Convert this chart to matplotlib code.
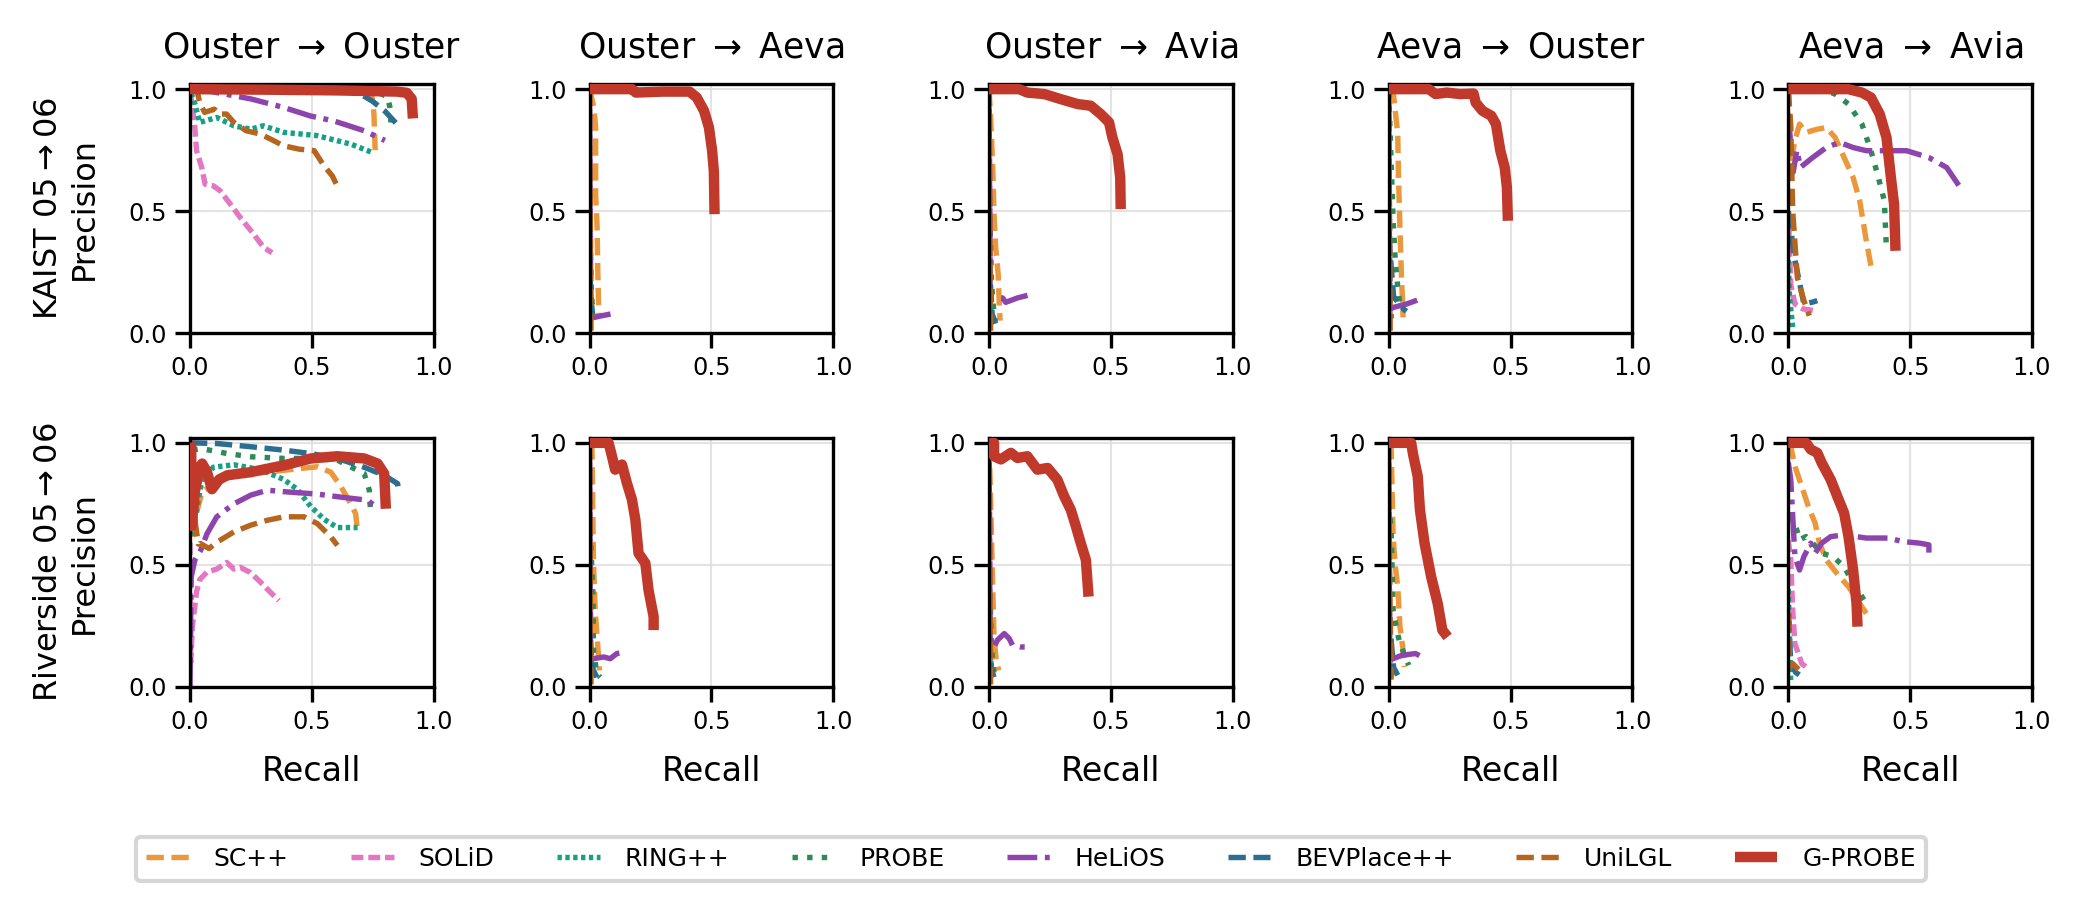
import matplotlib
matplotlib.use("Agg")
import matplotlib.pyplot as plt

# ---------------- data ----------------
methods = ["SC++", "SOLiD", "RING++", "PROBE", "HeLiOS", "BEVPlace++", "UniLGL", "G-PROBE"]
col_titles = ["Ouster $\\rightarrow$ Ouster", "Ouster $\\rightarrow$ Aeva", "Ouster $\\rightarrow$ Avia",
              "Aeva $\\rightarrow$ Ouster", "Aeva $\\rightarrow$ Avia"]
row_labels = ["KAIST 05$\\rightarrow$06\nPrecision", "Riverside 05$\\rightarrow$06\nPrecision"]
ticks = [0.0, 0.5, 1.0]

# each entry: method -> (recall list, precision list)
kaist_ouster_ouster = {
    "SC++": ([0.0, 0.3, 0.6, 0.745, 0.755, 0.76], [1.0, 1.0, 0.995, 0.99, 0.9, 0.75]),
    "SOLiD": ([0.0, 0.007, 0.02, 0.027, 0.048, 0.062, 0.096, 0.124, 0.165, 0.206, 0.261, 0.302, 0.337],
              [0.99, 0.95, 0.843, 0.748, 0.68, 0.611, 0.604, 0.584, 0.53, 0.475, 0.407, 0.352, 0.33]),
    "RING++": ([0.0, 0.01, 0.02, 0.04, 0.11, 0.18, 0.25, 0.30, 0.385, 0.52, 0.66, 0.75],
               [0.98, 0.97, 0.94, 0.864, 0.884, 0.85, 0.836, 0.85, 0.823, 0.81, 0.775, 0.74]),
    "PROBE": ([0.0, 0.5, 0.76, 0.81, 0.82, 0.825, 0.82], [1.0, 1.0, 0.99, 0.97, 0.93, 0.88, 0.83]),
    "HeLiOS": ([0.0, 0.04, 0.11, 0.25, 0.385, 0.495, 0.59, 0.714, 0.8],
               [1.0, 1.0, 0.986, 0.96, 0.925, 0.89, 0.87, 0.83, 0.79]),
    "BEVPlace++": ([0.0, 0.3, 0.6, 0.7, 0.75, 0.8, 0.865], [1.0, 1.0, 0.995, 0.98, 0.95, 0.91, 0.84]),
    "UniLGL": ([0.0, 0.03, 0.04, 0.06, 0.10, 0.12, 0.15, 0.18, 0.23, 0.29, 0.385, 0.45, 0.51, 0.55, 0.584, 0.604],
               [1.0, 0.99, 0.945, 0.905, 0.918, 0.898, 0.898, 0.864, 0.83, 0.816, 0.768, 0.754, 0.748, 0.686, 0.645, 0.604]),
    "G-PROBE": ([0.0, 0.3, 0.6, 0.85, 0.89, 0.91, 0.915], [1.0, 0.998, 0.995, 0.99, 0.985, 0.96, 0.88]),
}

kaist_ouster_aeva = {
    "SC++": ([0.0, 0.018, 0.025, 0.025, 0.031, 0.034, 0.038], [1.0, 0.925, 0.843, 0.57, 0.434, 0.243, 0.079]),
    "SOLiD": ([0.0, 0.003, 0.006], [0.95, 0.5, 0.05]),
    "RING++": ([0.0, 0.004, 0.012], [0.3, 0.15, 0.05]),
    "PROBE": ([0.0, 0.006, 0.015], [0.5, 0.2, 0.05]),
    "HeLiOS": ([0.0, 0.004, 0.018, 0.05, 0.086], [0.92, 0.07, 0.065, 0.072, 0.079]),
    "BEVPlace++": ([0.0, 0.008, 0.014], [0.25, 0.12, 0.06]),
    "UniLGL": ([0.0, 0.003, 0.006], [1.0, 0.5, 0.0]),
    "G-PROBE": ([0.0, 0.175, 0.19, 0.3, 0.41, 0.44, 0.47, 0.49, 0.503, 0.51, 0.513],
                [1.0, 1.0, 0.986, 0.99, 0.99, 0.966, 0.911, 0.843, 0.748, 0.666, 0.488]),
}

kaist_ouster_avia = {
    "SC++": ([0.0, 0.01, 0.016, 0.02, 0.027, 0.037, 0.041, 0.045], [1.0, 0.8, 0.64, 0.49, 0.35, 0.243, 0.134, 0.052]),
    "SOLiD": ([0.0, 0.003, 0.006], [0.95, 0.5, 0.05]),
    "RING++": ([0.0, 0.005, 0.012], [0.3, 0.12, 0.04]),
    "PROBE": ([0.0, 0.01, 0.02, 0.025], [0.6, 0.2, 0.08, 0.05]),
    "HeLiOS": ([0.0, 0.004, 0.007, 0.055, 0.068, 0.116, 0.164], [0.92, 0.15, 0.147, 0.145, 0.127, 0.145, 0.157]),
    "BEVPlace++": ([0.0, 0.012, 0.027], [0.3, 0.08, 0.04]),
    "UniLGL": ([0.0, 0.003, 0.006], [1.0, 0.5, 0.0]),
    "G-PROBE": ([0.0, 0.123, 0.157, 0.226, 0.294, 0.363, 0.417, 0.458, 0.492, 0.506, 0.527, 0.538, 0.54],
                [1.0, 1.0, 0.986, 0.98, 0.959, 0.939, 0.932, 0.898, 0.864, 0.802, 0.734, 0.638, 0.509]),
}

kaist_aeva_ouster = {
    "SC++": ([0.0, 0.018, 0.027, 0.037, 0.04, 0.046, 0.051, 0.059], [1.0, 0.993, 0.911, 0.816, 0.638, 0.434, 0.27, 0.065]),
    "SOLiD": ([0.0, 0.003, 0.006], [0.95, 0.5, 0.05]),
    "RING++": ([0.0, 0.005, 0.012], [0.4, 0.15, 0.05]),
    "PROBE": ([0.0, 0.01, 0.018, 0.027, 0.037, 0.046], [0.99, 0.7, 0.461, 0.297, 0.188, 0.12]),
    "HeLiOS": ([0.0, 0.004, 0.018, 0.073, 0.128], [0.92, 0.1, 0.106, 0.12, 0.14]),
    "BEVPlace++": ([0.0, 0.02, 0.06, 0.073], [0.4, 0.15, 0.1, 0.09]),
    "UniLGL": ([0.0, 0.003, 0.006], [1.0, 0.5, 0.0]),
    "G-PROBE": ([0.0, 0.165, 0.192, 0.238, 0.293, 0.348, 0.357, 0.385, 0.421, 0.44, 0.458, 0.476, 0.485, 0.489],
                [1.0, 1.0, 0.98, 0.986, 0.98, 0.982, 0.945, 0.911, 0.891, 0.857, 0.748, 0.679, 0.598, 0.461]),
}

kaist_aeva_avia = {
    "SC++": ([0.0, 0.005, 0.01, 0.027, 0.046, 0.073, 0.119, 0.156, 0.192, 0.229, 0.266, 0.293, 0.32, 0.339],
             [1.0, 0.9, 0.7, 0.789, 0.857, 0.823, 0.836, 0.843, 0.802, 0.72, 0.638, 0.543, 0.379, 0.277]),
    "SOLiD": ([0.0, 0.01, 0.027, 0.06, 0.11], [0.5, 0.2, 0.12, 0.1, 0.093]),
    "RING++": ([0.0, 0.005, 0.018], [0.3, 0.15, 0.025]),
    "PROBE": ([0.0, 0.137, 0.192, 0.247, 0.302, 0.339, 0.366, 0.394, 0.403],
              [1.0, 1.0, 0.98, 0.939, 0.857, 0.748, 0.652, 0.543, 0.338]),
    "HeLiOS": ([0.0, 0.01, 0.02, 0.035, 0.05, 0.1, 0.156, 0.21, 0.266, 0.32, 0.412, 0.485, 0.577, 0.65, 0.705],
               [0.9, 0.77, 0.66, 0.75, 0.68, 0.72, 0.761, 0.782, 0.761, 0.748, 0.748, 0.748, 0.72, 0.679, 0.598]),
    "BEVPlace++": ([0.0, 0.027, 0.064, 0.1, 0.119], [0.5, 0.3, 0.12, 0.128, 0.134]),
    "UniLGL": ([0.0, 0.01, 0.018, 0.037, 0.064, 0.086], [1.0, 0.85, 0.502, 0.229, 0.134, 0.072]),
    "G-PROBE": ([0.0, 0.247, 0.302, 0.339, 0.375, 0.403, 0.421, 0.434, 0.44],
                [1.0, 1.0, 0.986, 0.966, 0.898, 0.802, 0.638, 0.529, 0.338]),
}

riverside_ouster_ouster = {
    "SC++": ([0.01, 0.03, 0.05, 0.11, 0.18, 0.318, 0.455, 0.523, 0.578, 0.62, 0.66, 0.68, 0.688],
             [0.615, 0.724, 0.8, 0.84, 0.867, 0.88, 0.895, 0.902, 0.88, 0.82, 0.75, 0.71, 0.635]),
    "SOLiD": ([0.0, 0.003, 0.01, 0.02, 0.027, 0.04, 0.069, 0.11, 0.151, 0.18, 0.206, 0.248, 0.289, 0.33, 0.365],
              [0.59, 0.1, 0.25, 0.33, 0.39, 0.44, 0.47, 0.483, 0.51, 0.483, 0.49, 0.469, 0.43, 0.388, 0.354]),
    "RING++": ([0.007, 0.05, 0.096, 0.18, 0.29, 0.385, 0.44, 0.495, 0.55, 0.605, 0.688],
               [0.62, 0.85, 0.90, 0.91, 0.89, 0.85, 0.81, 0.74, 0.687, 0.653, 0.653]),
    "PROBE": ([0.01, 0.044, 0.153, 0.25, 0.386, 0.496, 0.605, 0.715, 0.736, 0.742],
              [0.97, 0.977, 0.956, 0.943, 0.936, 0.936, 0.929, 0.874, 0.806, 0.704]),
    "HeLiOS": ([0.0, 0.005, 0.02, 0.044, 0.07, 0.11, 0.18, 0.25, 0.318, 0.386, 0.523, 0.633, 0.729, 0.763],
               [0.0, 0.45, 0.52, 0.56, 0.628, 0.697, 0.75, 0.786, 0.806, 0.8, 0.79, 0.776, 0.765, 0.738]),
    "BEVPlace++": ([0.0, 0.112, 0.25, 0.386, 0.496, 0.605, 0.715, 0.797, 0.852, 0.859],
                   [1.0, 0.997, 0.984, 0.97, 0.956, 0.936, 0.90, 0.867, 0.833, 0.795]),
    "UniLGL": ([0.02, 0.034, 0.044, 0.078, 0.112, 0.18, 0.25, 0.318, 0.386, 0.468, 0.523, 0.578, 0.605],
               [0.687, 0.585, 0.587, 0.567, 0.594, 0.635, 0.663, 0.683, 0.697, 0.697, 0.669, 0.615, 0.58]),
    "G-PROBE": ([0.0, 0.005, 0.007, 0.02, 0.04, 0.05, 0.07, 0.09, 0.12, 0.153, 0.25, 0.386, 0.496, 0.605, 0.715, 0.77, 0.797, 0.804],
                [1.0, 0.98, 0.66, 0.80, 0.90, 0.915, 0.88, 0.81, 0.85, 0.867, 0.88, 0.908, 0.936, 0.945, 0.936, 0.915, 0.874, 0.73]),
}

riverside_ouster_aeva = {
    "SC++": ([0.0, 0.01, 0.016, 0.023, 0.033, 0.041], [1.0, 0.98, 0.52, 0.315, 0.178, 0.068]),
    "SOLiD": ([0.0, 0.003, 0.006], [0.95, 0.5, 0.05]),
    "RING++": ([0.0, 0.005, 0.012], [0.3, 0.12, 0.04]),
    "PROBE": ([0.0, 0.014, 0.016, 0.03, 0.044], [0.7, 0.384, 0.15, 0.055, 0.04]),
    "HeLiOS": ([0.0, 0.004, 0.016, 0.058, 0.085, 0.112, 0.147], [0.92, 0.11, 0.116, 0.123, 0.116, 0.137, 0.144]),
    "BEVPlace++": ([0.0, 0.015, 0.03], [0.2, 0.07, 0.04]),
    "UniLGL": ([0.0, 0.003, 0.006], [1.0, 0.5, 0.0]),
    "G-PROBE": ([0.0, 0.078, 0.092, 0.105, 0.133, 0.153, 0.174, 0.188, 0.201, 0.229, 0.242, 0.263, 0.263],
                [1.0, 1.0, 0.945, 0.89, 0.911, 0.836, 0.767, 0.685, 0.548, 0.507, 0.397, 0.288, 0.233]),
}

riverside_ouster_avia = {
    "SC++": ([0.0, 0.01, 0.02, 0.03, 0.04], [1.0, 0.6, 0.2, 0.1, 0.068]),
    "SOLiD": ([0.0, 0.003, 0.006], [0.95, 0.5, 0.05]),
    "RING++": ([0.0, 0.005, 0.012], [0.3, 0.12, 0.04]),
    "PROBE": ([0.0, 0.01, 0.02, 0.03], [0.5, 0.15, 0.055, 0.05]),
    "HeLiOS": ([0.0, 0.004, 0.014, 0.034, 0.062, 0.082, 0.096, 0.13, 0.164],
               [0.92, 0.14, 0.151, 0.192, 0.219, 0.199, 0.171, 0.164, 0.164]),
    "BEVPlace++": ([0.0, 0.01, 0.02], [0.2, 0.07, 0.04]),
    "UniLGL": ([0.0, 0.003, 0.006], [1.0, 0.5, 0.0]),
    "G-PROBE": ([0.0, 0.02, 0.02, 0.048, 0.089, 0.116, 0.157, 0.198, 0.24, 0.28, 0.308, 0.335, 0.356, 0.376, 0.397, 0.408],
                [1.0, 1.0, 0.945, 0.932, 0.959, 0.938, 0.945, 0.89, 0.897, 0.849, 0.781, 0.726, 0.658, 0.589, 0.521, 0.37]),
}

riverside_aeva_ouster = {
    "SC++": ([0.0, 0.01, 0.018, 0.027, 0.037, 0.046, 0.059, 0.064], [1.0, 0.986, 0.616, 0.493, 0.411, 0.247, 0.151, 0.082]),
    "SOLiD": ([0.0, 0.003, 0.006], [0.95, 0.5, 0.05]),
    "RING++": ([0.0, 0.005, 0.012], [0.35, 0.12, 0.04]),
    "PROBE": ([0.0, 0.01, 0.018, 0.033, 0.046, 0.082], [0.75, 0.64, 0.315, 0.233, 0.178, 0.089]),
    "HeLiOS": ([0.0, 0.004, 0.018, 0.055, 0.11, 0.137], [0.92, 0.11, 0.116, 0.13, 0.137, 0.123]),
    "BEVPlace++": ([0.0, 0.02, 0.037], [0.3, 0.08, 0.048]),
    "UniLGL": ([0.0, 0.003, 0.01], [1.0, 0.5, 0.03]),
    "G-PROBE": ([0.0, 0.092, 0.1, 0.119, 0.128, 0.147, 0.174, 0.201, 0.22, 0.242],
                [1.0, 1.0, 0.952, 0.863, 0.726, 0.589, 0.452, 0.342, 0.233, 0.205]),
}

riverside_aeva_avia = {
    "SC++": ([0.0, 0.01, 0.027, 0.055, 0.082, 0.11, 0.128, 0.156, 0.21, 0.247, 0.293, 0.32],
             [1.0, 0.986, 0.904, 0.822, 0.74, 0.671, 0.589, 0.52, 0.452, 0.411, 0.342, 0.301]),
    "SOLiD": ([0.0, 0.01, 0.018, 0.027, 0.055, 0.082], [0.6, 0.52, 0.315, 0.178, 0.096, 0.075]),
    "RING++": ([0.0, 0.005, 0.01], [0.4, 0.2, 0.015]),
    "PROBE": ([0.0, 0.01, 0.027, 0.046, 0.073, 0.1, 0.137, 0.183, 0.229, 0.266, 0.293, 0.32],
              [0.7, 0.69, 0.671, 0.603, 0.616, 0.589, 0.548, 0.534, 0.493, 0.425, 0.384, 0.342]),
    "HeLiOS": ([0.0, 0.01, 0.027, 0.046, 0.064, 0.092, 0.11, 0.137, 0.174, 0.229, 0.32, 0.412, 0.467, 0.54, 0.577, 0.577],
               [0.92, 0.85, 0.534, 0.479, 0.534, 0.589, 0.548, 0.589, 0.616, 0.623, 0.61, 0.61, 0.596, 0.589, 0.582, 0.541]),
    "BEVPlace++": ([0.0, 0.01, 0.03, 0.045], [0.3, 0.1, 0.06, 0.05]),
    "UniLGL": ([0.0, 0.005, 0.018, 0.046, 0.06], [0.3, 0.08, 0.096, 0.068, 0.055]),
    "G-PROBE": ([0.0, 0.073, 0.092, 0.119, 0.137, 0.174, 0.201, 0.229, 0.247, 0.266, 0.28, 0.284],
                [1.0, 1.0, 0.973, 0.959, 0.918, 0.849, 0.781, 0.712, 0.616, 0.479, 0.342, 0.247]),
}

panels = [
    [kaist_ouster_ouster, kaist_ouster_aeva, kaist_ouster_avia, kaist_aeva_ouster, kaist_aeva_avia],
    [riverside_ouster_ouster, riverside_ouster_aeva, riverside_ouster_avia, riverside_aeva_ouster, riverside_aeva_avia],
]

# ---------------- styles ----------------
colors = {"SC++": "#EB983C", "SOLiD": "#E377C2", "RING++": "#16A085", "PROBE": "#2E8B57",
          "HeLiOS": "#8E44AD", "BEVPlace++": "#2C6E8F", "UniLGL": "#B5651D", "G-PROBE": "#C0392B"}
styles = {"SC++": (0, (3.2, 1.4)), "SOLiD": (0, (2.2, 0.9)), "RING++": (0, (0.8, 0.65)),
          "PROBE": (0, (1.0, 1.7)), "HeLiOS": (0, (5.5, 1.4, 0.9, 1.4)), "BEVPlace++": (0, (3.2, 1.4)),
          "UniLGL": (0, (3.2, 1.4)), "G-PROBE": "-"}
widths = {m: 1.3 for m in methods}
widths["G-PROBE"] = 2.5

plt.rcParams["font.family"] = ["DejaVu Sans"]
fig, axes = plt.subplots(2, 5, figsize=(2083 / 300, 916 / 300), dpi=300)
fig.subplots_adjust(left=0.0912, right=0.9755, top=0.908, bottom=0.25, wspace=0.64, hspace=0.42)

for i in range(2):
    for j in range(5):
        ax = axes[i, j]
        data = panels[i][j]
        for m in methods:
            r, p = data[m]
            ax.plot(r, p, color=colors[m], linestyle=styles[m], lw=widths[m], label=m,
                    solid_capstyle="butt", dash_capstyle="butt", zorder=3 if m == "G-PROBE" else 2)
        ax.set_xlim(0, 1)
        ax.set_ylim(0, 1.02)
        ax.set_xticks(ticks)
        ax.set_yticks(ticks)
        ax.tick_params(labelsize=5.8, length=3.5, width=0.8, pad=2)
        ax.grid(True, color="#dddddd", lw=0.5, alpha=0.8)
        ax.set_axisbelow(True)
        for s in ax.spines.values():
            s.set_linewidth(0.8)
        if i == 0:
            ax.set_title(col_titles[j], fontsize=8.3, pad=6.5)
        if i == 1:
            ax.set_xlabel("Recall", fontsize=8, labelpad=5)
        if j == 0:
            ax.set_ylabel(row_labels[i], fontsize=7.7, labelpad=7)

handles, labels = axes[0, 0].get_legend_handles_labels()
fig.legend(handles, labels, loc="lower center", bbox_to_anchor=(0.495, 0.025), ncol=8, fontsize=6,
           handlelength=1.7, handletextpad=1.0, columnspacing=2.5, frameon=True)

fig.savefig("out.png", dpi=300)
